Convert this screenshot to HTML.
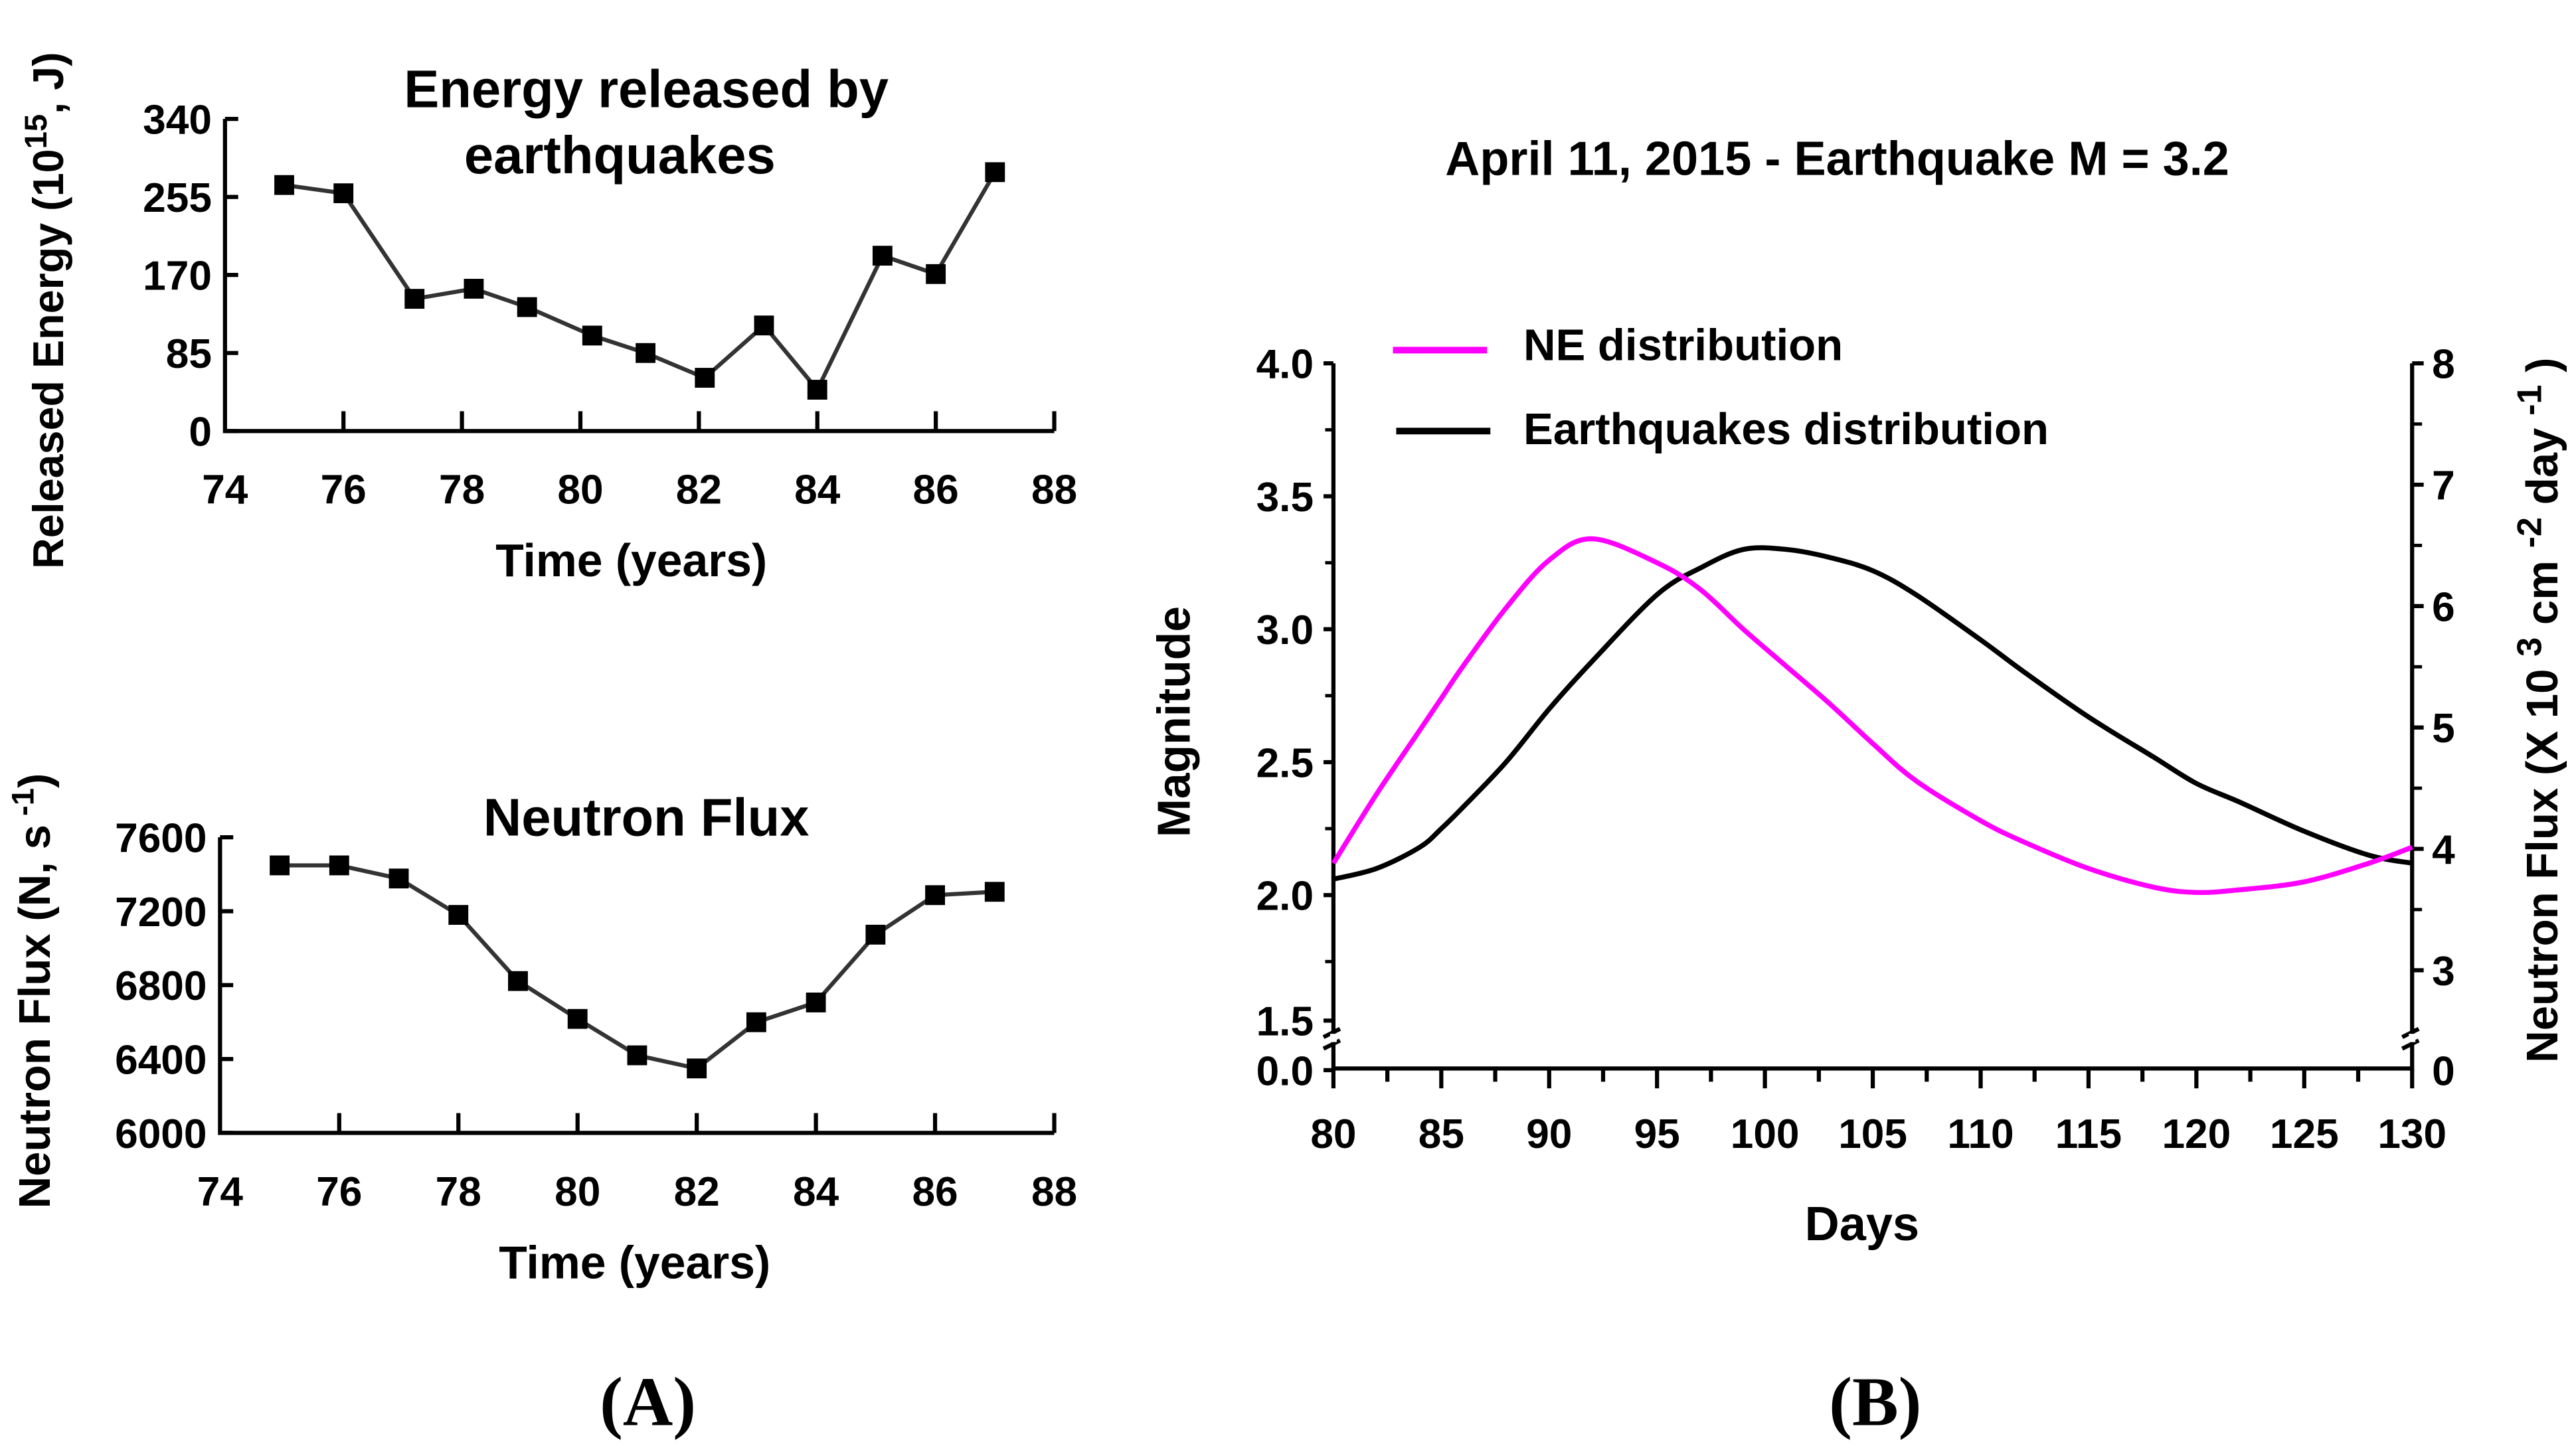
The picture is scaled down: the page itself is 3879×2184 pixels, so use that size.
<!DOCTYPE html>
<html><head><meta charset="utf-8"><style>
html,body{margin:0;padding:0;background:#fff;}
svg{display:block;}
text{font-family:"Liberation Sans",sans-serif;font-weight:bold;fill:#000;}
</style></head><body>
<svg id="fig" width="3879" height="2184" viewBox="0 0 1559 878" xmlns="http://www.w3.org/2000/svg">
<rect width="1559" height="878" fill="#fff"/>
<g id="pA1"></g>
<g id="pA2"></g>
<g id="pB"></g>
<text x="391" y="65" font-size="32" text-anchor="middle">Energy released by</text>
<text x="375" y="105" font-size="32" text-anchor="middle">earthquakes</text>
<text x="391" y="506" font-size="32" text-anchor="middle">Neutron Flux</text>
<text x="382" y="349" font-size="28" text-anchor="middle">Time (years)</text>
<text x="384" y="774" font-size="28" text-anchor="middle">Time (years)</text>
<text transform="translate(38,188) rotate(-90)" font-size="26" text-anchor="middle">Released Energy (10<tspan dy="-10" font-size="19">15</tspan><tspan dy="10">, J)</tspan></text>
<text transform="translate(30,600) rotate(-90)" font-size="27" text-anchor="middle">Neutron Flux (N, s<tspan dy="-10" font-size="19"> -1</tspan><tspan dy="10">)</tspan></text>
<text x="392" y="863" font-size="42" text-anchor="middle" style="font-family:'Liberation Serif',serif">(A)</text>
<text x="1135" y="863" font-size="42" text-anchor="middle" style="font-family:'Liberation Serif',serif">(B)</text>
<text x="1112" y="106" font-size="29" text-anchor="middle">April 11, 2015 - Earthquake M = 3.2</text>
<text x="1127" y="751" font-size="29" text-anchor="middle">Days</text>
<text transform="translate(720,437) rotate(-90)" font-size="28" text-anchor="middle">Magnitude</text>
<text transform="translate(1548,430) rotate(-90)" font-size="27" text-anchor="middle">Neutron Flux (X 10 <tspan dy="-10" font-size="21">3</tspan><tspan dy="10"> cm </tspan><tspan dy="-10" font-size="21">-2</tspan><tspan dy="10"> day </tspan><tspan dy="-10" font-size="21">-1</tspan><tspan dy="10"> )</tspan></text>
<line x1="843" y1="212" x2="900" y2="212" stroke="#ff00ff" stroke-width="4"/>
<text x="922" y="218" font-size="27">NE distribution</text>
<line x1="845" y1="261" x2="902" y2="261" stroke="#000" stroke-width="4"/>
<text x="922" y="269" font-size="27">Earthquakes distribution</text>
</svg>
<script>
const energyYears=[75,76,77.2,78.2,79.1,80.2,81.1,82.1,83.1,84,85.1,86,87];
const energyValues=[268,259,144,155,135,104,85,58,115,45,191,171,282];
const energyTicks=[0,85,170,255,340];
const fluxYears=[75,76,77,78,79,80,81,82,83,84,85,86,87];
const fluxValues=[7448,7448,7377,7180,6822,6617,6420,6349,6599,6706,7073,7287,7305];
const fluxTicks=[6000,6400,6800,7200,7600];
const yearTicks=[74,76,78,80,82,84,86,88];
const days=[80,82,84,85,86,88,90,92,95,97,99,101,103,105,107,110,112,115,118,120,122,125,128,130];
const neValues=[2.12,2.38,2.62,2.74,2.86,3.08,3.26,3.34,3.25,3.15,3.0,2.86,2.72,2.57,2.43,2.28,2.2,2.1,2.03,2.01,2.02,2.05,2.12,2.18];
const eqValues=[2.06,2.1,2.18,2.25,2.33,2.5,2.7,2.88,3.13,3.23,3.3,3.3,3.27,3.22,3.13,2.96,2.84,2.67,2.52,2.42,2.35,2.24,2.15,2.12];
const dayTicks=[80,85,90,95,100,105,110,115,120,125,130];
const magTicks=[2.0,2.5,3.0,3.5,4.0];
const rightTicks=[3,4,5,6,7,8];

const NS="http://www.w3.org/2000/svg";
function mk(parent,tag,attrs,txt){const e=document.createElementNS(NS,tag);for(const k in attrs)e.setAttribute(k,attrs[k]);if(txt!==undefined)e.textContent=txt;parent.appendChild(e);return e;}

function panelA(gid,ys,vs,ticks,x0,x1,y0,y1,vmin,vmax,nm){
  const g=document.getElementById(gid);
  const sx=v=>x0+(v-74)/(88-74)*(x1-x0);
  const sy=v=>y0-(v-vmin)/(vmax-vmin)*(y0-y1);
  let a=mk(g,'path',{d:`M${x0},${y1} V${y0} H${x1}`,fill:'none',stroke:'#000','stroke-width':2.5});
  
  
  ticks.forEach(t=>{
    let l=mk(g,'line',{x1:x0,x2:x0+8,y1:sy(t),y2:sy(t),stroke:'#000','stroke-width':2.5});
    
    
    let tx=mk(g,'text',{x:x0-8,y:sy(t)+9,'font-size':25,'text-anchor':'end'},String(t));
    
    
  });
  yearTicks.forEach(t=>{
    if(t>74){let l=mk(g,'line',{x1:sx(t),x2:sx(t),y1:y0,y2:y0-12,stroke:'#000','stroke-width':2.5});
    
    }
    let tx=mk(g,'text',{x:sx(t),y:y0+44,'font-size':25,'text-anchor':'middle'},String(t));
    
    
  });
  let p=mk(g,'polyline',{points:ys.map((y,i)=>sx(y)+','+sy(vs[i])).join(' '),fill:'none',stroke:'#333','stroke-width':2.5});
  
  
  ys.forEach((y,i)=>{
    let r=mk(g,'rect',{x:sx(y)-6,y:sy(vs[i])-6,width:12,height:12,fill:'#000'});
    
    
  });
}
panelA('pA1',energyYears,energyValues,energyTicks,136,638,261,72,0,340,'energy');
panelA('pA2',fluxYears,fluxValues,fluxTicks,133,638,686,507,6000,7600,'flux');

(function(){
  const g=document.getElementById('pB');
  const x0=807,x1=1460,yb=647;
  const sx=d=>x0+(d-80)/50*(x1-x0);
  const sy=m=>542-(m-2.0)/0.5*80.5;
  const sr=v=>514-(v-4)*73.5;
  let a=mk(g,'path',{d:`M${x0},220 V${yb} H${x1} V220`,fill:'none',stroke:'#000','stroke-width':2.5});
  
  
  magTicks.forEach(t=>{
    let l=mk(g,'line',{x1:x0-6,x2:x0,y1:sy(t),y2:sy(t),stroke:'#000','stroke-width':2.5});
    
    
    let tx=mk(g,'text',{x:x0-12,y:sy(t)+9,'font-size':25,'text-anchor':'end'},t.toFixed(1));
    
    
  });
  [2.25,2.75,3.25,3.75,1.75].forEach(t=>{
    let l=mk(g,'line',{x1:x0-5,x2:x0,y1:sy(t),y2:sy(t),stroke:'#000','stroke-width':2});
    
    
  });
  [['1.5',618],['0.0',648]].forEach(([s,y])=>{
    let tx=mk(g,'text',{x:x0-12,y:y+9,'font-size':25,'text-anchor':'end'},s);
    
    
    let l=mk(g,'line',{x1:x0-6,x2:x0,y1:y,y2:y,stroke:'#000','stroke-width':2.5});
    
    
  });
  rightTicks.forEach(t=>{
    let l=mk(g,'line',{x1:x1,x2:x1+7,y1:sr(t),y2:sr(t),stroke:'#000','stroke-width':2.5});
    
    
    let tx=mk(g,'text',{x:x1+12,y:sr(t)+9,'font-size':25},String(t));
    
    
  });
  [3.5,4.5,5.5,6.5,7.5].forEach(t=>{
    let l=mk(g,'line',{x1:x1,x2:x1+6,y1:sr(t),y2:sr(t),stroke:'#000','stroke-width':2});
    
    
  });
  let tx0=mk(g,'text',{x:x1+12,y:657,'font-size':25},'0');
  
  
  [x0,x1].forEach(x=>{
    let b=mk(g,'path',{d:`M${x-6},628 l10,-5 M${x-6},635 l10,-5`,stroke:'#000','stroke-width':2.5,fill:'none'});
    
    
    mk(g,'rect',{x:x-2,y:626,width:4,height:5,fill:'#fff'});
  });
  for(let d=80;d<=130;d+=2.5){
    const major=(d%5===0);
    let l=mk(g,'line',{x1:sx(d),x2:sx(d),y1:yb,y2:yb+(major?12:8),stroke:'#000','stroke-width':2.5});
    
    
  }
  dayTicks.forEach(t=>{
    let tx=mk(g,'text',{x:sx(t),y:695,'font-size':25,'text-anchor':'middle'},String(t));
    
    
  });
  function curve(vals,color,nm){
    const pts=days.map((d,i)=>[sx(d),sy(vals[i])]);
    let d='M'+pts[0].join(',');
    for(let i=0;i<pts.length-1;i++){
      const p0=pts[Math.max(i-1,0)],p1=pts[i],p2=pts[i+1],p3=pts[Math.min(i+2,pts.length-1)];
      d+=` C${p1[0]+(p2[0]-p0[0])/6},${p1[1]+(p2[1]-p0[1])/6} ${p2[0]-(p3[0]-p1[0])/6},${p2[1]-(p3[1]-p1[1])/6} ${p2[0]},${p2[1]}`;
    }
    let p=mk(g,'path',{d:d,fill:'none',stroke:color,'stroke-width':3});
    
    
  }
  curve(eqValues,'#000','earthquakes-distribution-line');
  curve(neValues,'#ff00ff','ne-distribution-line');
})();
</script>
</body></html>
